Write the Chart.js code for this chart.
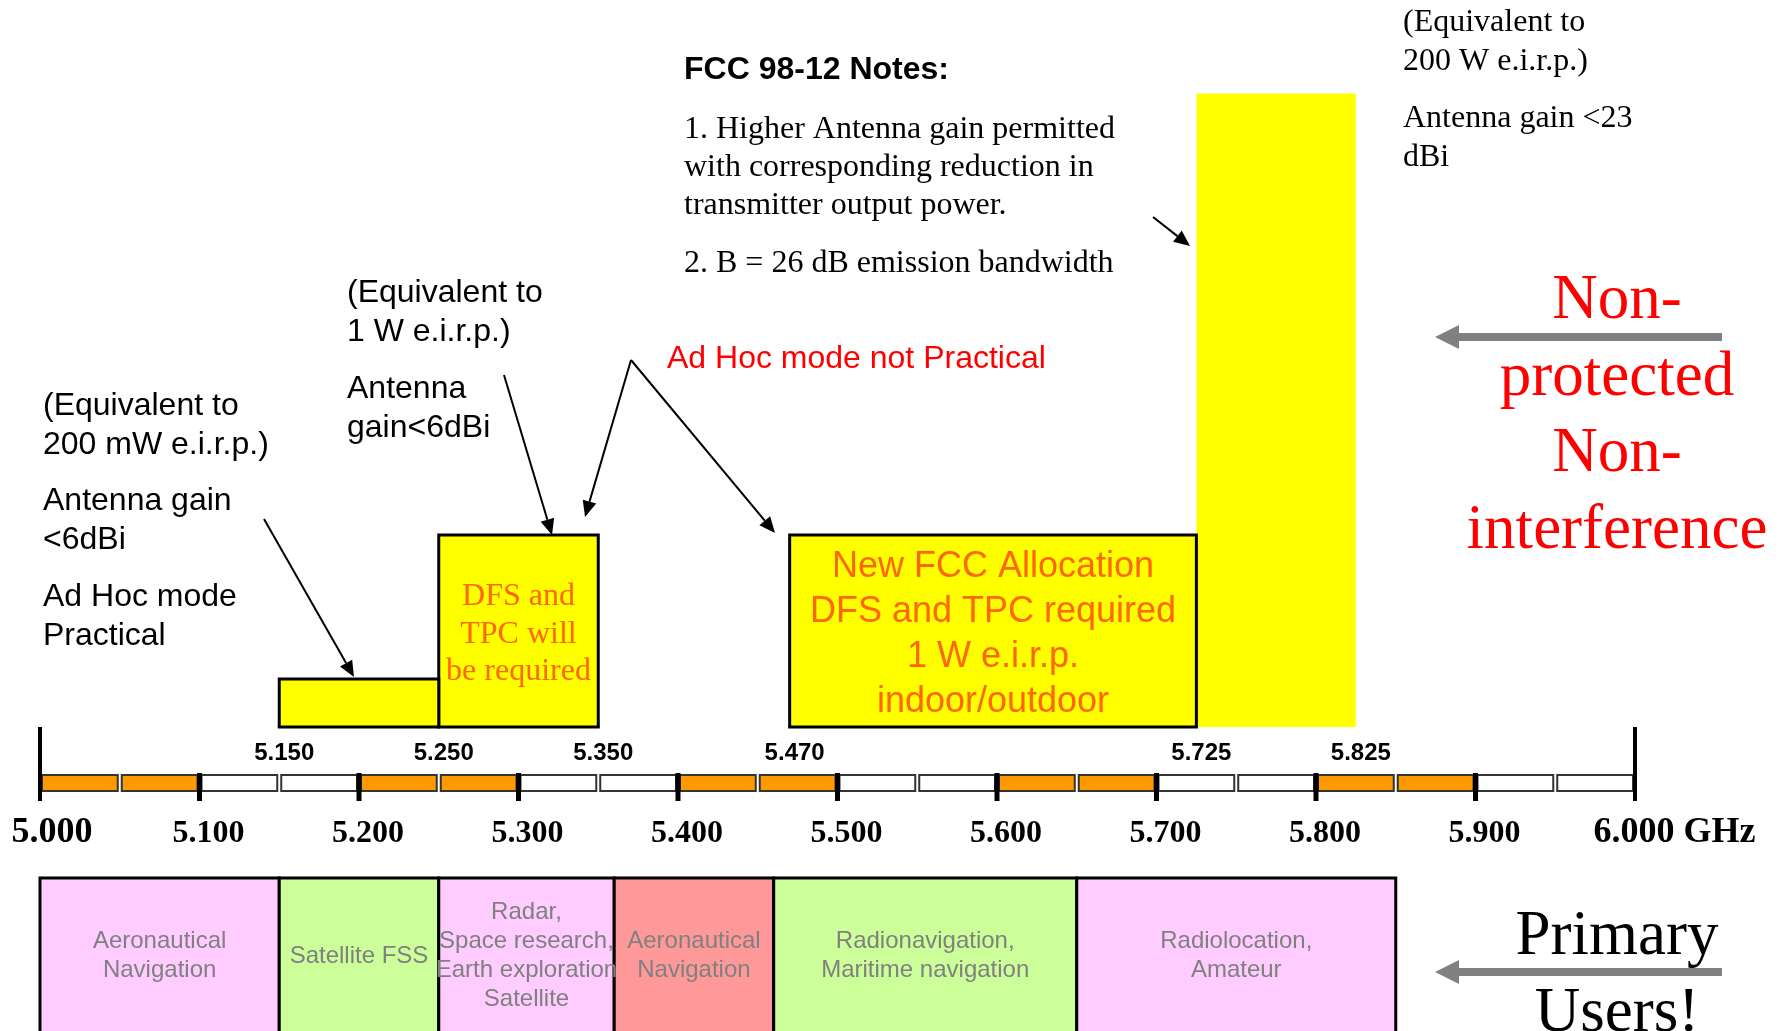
<!DOCTYPE html>
<html>
<head>
<meta charset="utf-8">
<script src="https://cdn.jsdelivr.net/npm/chart.js@4.4.0/dist/chart.umd.min.js"></script>
<style>
  html, body { margin: 0; padding: 0; background: #fff; }
  #wrap { width: 1792px; height: 1031px; overflow: hidden; }
</style>
</head>
<body>
<div id="wrap"><canvas id="band" width="1792" height="1031"></canvas></div>
<script>
// unlicensed 5 GHz blocks (GHz) and their relative power level
const bandStart = [5.150, 5.250, 5.470, 5.725];
const bandEnd   = [5.250, 5.350, 5.725, 5.825];
const bandLevel = [1, 4, 4, 13.2];
const bandText  = [
  [],
  ["DFS and", "TPC will", "be required"],
  ["New FCC Allocation", "DFS and TPC required", "1 W e.i.r.p.", "indoor/outdoor"],
  []
];

// band edge labels above the ruler
const edgeLabels = ["5.150", "5.250", "5.350", "5.470", "5.725", "5.825"];

// main axis labels
const axisLabels = ["5.000", "5.100", "5.200", "5.300", "5.400", "5.500",
                    "5.600", "5.700", "5.800", "5.900", "6.000"];
const axisUnit = "GHz";

// primary users of the spectrum
const userStart = [5.000, 5.150, 5.250, 5.360, 5.460, 5.650];
const userEnd   = [5.150, 5.250, 5.360, 5.460, 5.650, 5.850];
const userNames = [
  ["Aeronautical", "Navigation"],
  ["Satellite FSS"],
  ["Radar,", "Space research,", "Earth exploration", "Satellite"],
  ["Aeronautical", "Navigation"],
  ["Radionavigation,", "Maritime navigation"],
  ["Radiolocation,", "Amateur"]
];

// styles
const userFill = ["#ffccff", "#ccff99", "#ffccff", "#ff9999", "#ccff99", "#ffccff"];
const SANS = "'Liberation Sans', Arial, sans-serif";
const SERIF = "'Liberation Serif', 'Times New Roman', serif";
const ORANGE_TXT = "#ff6600";

function textLines(ctx, arr, x, y0, step) {
  arr.forEach((t, i) => ctx.fillText(t, x, y0 + i * step));
}

function arrow(ctx, x1, y1, x2, y2, color, w, hl, hw) {
  const a = Math.atan2(y2 - y1, x2 - x1);
  const bx = x2 - hl * Math.cos(a), by = y2 - hl * Math.sin(a);
  ctx.strokeStyle = color;
  ctx.lineWidth = w;
  ctx.beginPath();
  ctx.moveTo(x1, y1);
  ctx.lineTo(bx, by);
  ctx.stroke();
  ctx.fillStyle = color;
  ctx.beginPath();
  ctx.moveTo(x2, y2);
  ctx.lineTo(bx + hw * Math.sin(a), by - hw * Math.cos(a));
  ctx.lineTo(bx - hw * Math.sin(a), by + hw * Math.cos(a));
  ctx.closePath();
  ctx.fill();
}

const sketch = {
  id: "sketch",
  afterDatasetsDraw(chart) {
    const { ctx, scales: { x, y } } = chart;
    ctx.save();
    // bottom edges of bordered blocks
    const y0 = y.getPixelForValue(0);
    ctx.strokeStyle = "#000";
    ctx.lineWidth = 3;
    bandStart.forEach((s, i) => {
      if (i === 3) return;
      ctx.beginPath();
      ctx.moveTo(x.getPixelForValue(s) - 1.5, y0);
      ctx.lineTo(x.getPixelForValue(bandEnd[i]) + 1.5, y0);
      ctx.stroke();
    });
    // text inside blocks
    ctx.fillStyle = ORANGE_TXT;
    ctx.textAlign = "center";
    ctx.textBaseline = "alphabetic";
    const c1 = (x.getPixelForValue(bandStart[1]) + x.getPixelForValue(bandEnd[1])) / 2;
    ctx.font = "32px " + SERIF;
    textLines(ctx, bandText[1], c1, 605, 37.5);
    const c2 = (x.getPixelForValue(bandStart[2]) + x.getPixelForValue(bandEnd[2])) / 2;
    ctx.font = "36px " + SANS;
    textLines(ctx, bandText[2], c2, 577, 45);
    ctx.restore();
  },
  afterDraw(chart) {
    const { ctx, scales: { x } } = chart;
    ctx.save();

    // ruler of 50 MHz cells
    const rTop = 775, rBot = 791;
    for (let f = 0; f < 20; f++) {
      const a = 5 + f * 0.05;
      const xa = x.getPixelForValue(a) + 2;
      const xb = x.getPixelForValue(a + 0.05) - 2;
      ctx.fillStyle = Math.floor(f / 2) % 2 === 0 ? "#ff9900" : "#ffffff";
      ctx.fillRect(xa, rTop, xb - xa, rBot - rTop);
      ctx.strokeStyle = "#333";
      ctx.lineWidth = 2;
      ctx.strokeRect(xa, rTop, xb - xa, rBot - rTop);
    }
    ctx.strokeStyle = "#000";
    axisLabels.forEach((lab, i) => {
      const px = x.getPixelForValue(parseFloat(lab));
      const end = i === 0 || i === axisLabels.length - 1;
      ctx.lineWidth = end ? 4 : 5;
      ctx.beginPath();
      ctx.moveTo(px, end ? 727 : 773);
      ctx.lineTo(px, 801);
      ctx.stroke();
    });

    // axis labels
    ctx.fillStyle = "#000";
    ctx.textBaseline = "alphabetic";
    axisLabels.forEach((lab, i) => {
      const px = x.getPixelForValue(parseFloat(lab)) + 9;
      const end = i === 0 || i === axisLabels.length - 1;
      ctx.font = "bold " + (end ? 36 : 32) + "px " + SERIF;
      if (i === axisLabels.length - 1) {
        const w = ctx.measureText(lab).width;
        ctx.textAlign = "left";
        ctx.fillText(lab + " " + axisUnit, px - w / 2 - 10, 842);
      } else {
        ctx.textAlign = "center";
        ctx.fillText(lab, px + (i === 0 ? 3 : 0), 842);
      }
    });

    // band edge labels
    ctx.font = "bold 24px " + SANS;
    ctx.textAlign = "center";
    edgeLabels.forEach(lab => {
      ctx.fillText(lab, x.getPixelForValue(parseFloat(lab)) + 5, 760);
    });

    // primary users
    userStart.forEach((s, i) => {
      const xa = x.getPixelForValue(s), xb = x.getPixelForValue(userEnd[i]);
      ctx.fillStyle = userFill[i];
      ctx.fillRect(xa, 878, xb - xa, 160);
      ctx.strokeStyle = "#000";
      ctx.lineWidth = 3;
      ctx.strokeRect(xa, 878, xb - xa, 160);
    });
    ctx.font = "24px " + SANS;
    ctx.fillStyle = "#808080";
    ctx.textBaseline = "middle";
    userStart.forEach((s, i) => {
      const cx = (x.getPixelForValue(s) + x.getPixelForValue(userEnd[i])) / 2;
      const n = userNames[i].length;
      textLines(ctx, userNames[i], cx, 956 - (n - 1) * 29 / 2, 29);
    });

    // notes
    ctx.textBaseline = "alphabetic";
    ctx.textAlign = "left";
    ctx.fillStyle = "#000";
    ctx.font = "32px " + SANS;
    textLines(ctx, ["(Equivalent to", "200 mW e.i.r.p.)"], 43, 415, 38.5);
    textLines(ctx, ["Antenna gain", "<6dBi"], 43, 510, 38.5);
    textLines(ctx, ["Ad Hoc mode", "Practical"], 43, 606, 38.5);
    textLines(ctx, ["(Equivalent to", "1 W e.i.r.p.)"], 347, 302, 38.5);
    textLines(ctx, ["Antenna", "gain<6dBi"], 347, 398, 38.5);

    ctx.font = "bold 32px " + SANS;
    ctx.fillText("FCC 98-12 Notes:", 684, 79);
    ctx.font = "32px " + SERIF;
    textLines(ctx, ["1. Higher Antenna gain permitted", "with corresponding reduction in",
                    "transmitter output power."], 684, 138, 38);
    ctx.fillText("2. B = 26 dB emission bandwidth", 684, 272);

    textLines(ctx, ["(Equivalent to", "200 W e.i.r.p.)"], 1403, 31, 39);
    textLines(ctx, ["Antenna gain <23", "dBi"], 1403, 127, 39);

    ctx.fillStyle = "#ff0000";
    ctx.font = "32px " + SANS;
    ctx.fillText("Ad Hoc mode not Practical", 667, 368);

    ctx.textAlign = "center";
    ctx.font = "63px " + SERIF;
    textLines(ctx, ["Non-", "protected", "Non-", "interference"], 1617, 318, 76.7);
    ctx.fillStyle = "#000";
    textLines(ctx, ["Primary", "Users!"], 1617, 954, 77);

    // pointers
    arrow(ctx, 264, 519, 354, 677, "#000", 2, 16, 7);
    arrow(ctx, 504, 375, 552, 535, "#000", 2, 16, 7);
    arrow(ctx, 631, 360, 585, 517, "#000", 2, 16, 7);
    arrow(ctx, 631, 360, 775, 533, "#000", 2, 16, 7);
    arrow(ctx, 1153, 217, 1190, 246, "#000", 2, 16, 7);
    arrow(ctx, 1722, 337, 1435, 337, "#808080", 8, 24, 12);
    arrow(ctx, 1722, 972, 1435, 972, "#808080", 8, 24, 12);

    ctx.restore();
  }
};

const datasets = bandStart.map((s, i) => ({
  data: [
    { x: s, y: 0 },
    { x: s, y: bandLevel[i] },
    { x: bandEnd[i], y: bandLevel[i] },
    { x: bandEnd[i], y: 0 }
  ],
  backgroundColor: "#ffff00",
  borderColor: i === 3 ? "rgba(0,0,0,0)" : "#000",
  borderWidth: 3,
  borderJoinStyle: "miter",
  fill: "origin",
  pointRadius: 0,
  tension: 0
}));

new Chart(document.getElementById("band"), {
  type: "line",
  data: { datasets: datasets },
  options: {
    responsive: false,
    animation: false,
    events: [],
    layout: { padding: { left: 40, right: 157, top: 0, bottom: 0 } },
    plugins: { legend: { display: false }, tooltip: { enabled: false } },
    scales: {
      x: { type: "linear", min: 5.0, max: 6.0, display: false },
      y: { type: "linear", min: -6.333, max: 15.146, display: false }
    }
  },
  plugins: [sketch]
});
</script>
</body>
</html>
